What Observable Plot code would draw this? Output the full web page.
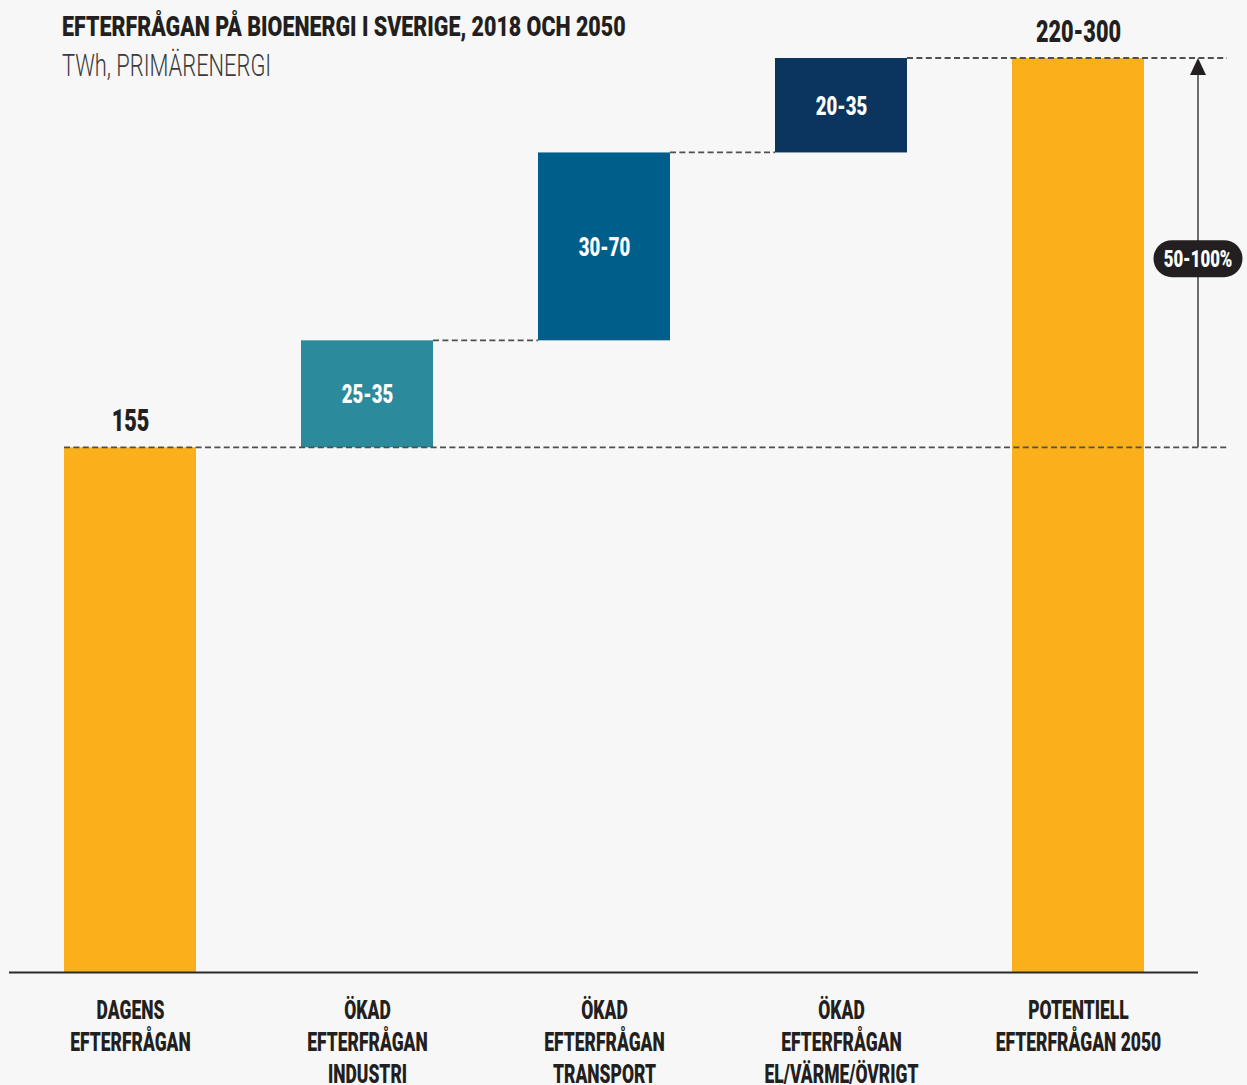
<!DOCTYPE html>
<html>
<head>
<meta charset="utf-8">
<script src="https://cdn.jsdelivr.net/npm/d3@7"></script>
<script src="https://cdn.jsdelivr.net/npm/@observablehq/plot@0.6"></script>
<style>
  html, body { margin: 0; padding: 0; background: #f7f7f7; }
  #wrap { position: relative; width: 1247px; height: 1085px; overflow: hidden; background: #f7f7f7; }
  .ttl { position: absolute; left: 62px; white-space: nowrap; transform-origin: 0 0; line-height: 1; font-family: Roboto, "Noto Sans", sans-serif; }
  #title { top: 13px; font-size: 28px; font-weight: 900; color: #231f20; transform: scaleX(0.766); }
  #subtitle { top: 50px; font-size: 31px; font-weight: 300; color: #3a3a3a; transform: scaleX(0.705); }
</style>
</head>
<body>
<div id="wrap">
  <div id="chart"></div>
  <div id="title" class="ttl">EFTERFRÅGAN PÅ BIOENERGI I SVERIGE, 2018 OCH 2050</div>
  <div id="subtitle" class="ttl">TWh, PRIMÄRENERGI</div>
</div>
<script>
// ---- data (TWh) ----
const categories = [
  "DAGENS\nEFTERFRÅGAN",
  "ÖKAD\nEFTERFRÅGAN\nINDUSTRI",
  "ÖKAD\nEFTERFRÅGAN\nTRANSPORT",
  "ÖKAD\nEFTERFRÅGAN\nEL/VÄRME/ÖVRIGT",
  "POTENTIELL\nEFTERFRÅGAN 2050"
];
const barStart = [0, 155, 186.6, 242.1, 0];
const barEnd = [155, 186.6, 242.1, 270, 270];
const valueLabels = ["155", "25-35", "30-70", "20-35", "220-300"];
const barKind = ["total", "step", "step", "step", "total"];
const rangeFrom = 155;
const rangeTo = 270;
const rangeLabel = "50-100%";

// ---- styles ----
const palette = ["#F9B01B", "#2B8A9C", "#005E8A", "#0B355F", "#F9B01B"];
const SX = 0.70; // horizontal condensing of the label font
const ink = "#231f20";

const data = categories.map((c, i) => ({
  cat: c, start: barStart[i], end: barEnd[i], label: valueLabels[i], kind: barKind[i]
}));

function connectors(index, scales, values, dims) {
  const x = scales.x, y = scales.y;
  const bw = typeof x.bandwidth === "function" ? x.bandwidth() : x.bandwidth;
  const ext = dims.width - dims.marginRight + 29;
  const g = d3.create("svg:g")
    .attr("stroke", "#4f4f4f").attr("stroke-width", 1.8)
    .attr("stroke-dasharray", "6,3.4").attr("fill", "none");
  const n = categories.length;
  for (let i = 0; i < n - 1; i++) {
    const left = x(categories[i]);
    const x1 = barKind[i] === "total" ? left : left + bw;
    const x2 = (barKind[i] === "total" || barKind[i + 1] === "total") ? ext : x(categories[i + 1]);
    const yy = y(barEnd[i]);
    g.append("line").attr("x1", x1).attr("x2", x2).attr("y1", yy).attr("y2", yy);
  }
  return g.node();
}

function rangeArrow(index, scales, values, dims) {
  const y = scales.y;
  const ax = dims.width - dims.marginRight;
  const y0 = y(rangeFrom), y1 = y(rangeTo);
  const g = d3.create("svg:g");
  g.append("line").attr("x1", ax).attr("x2", ax).attr("y1", y0).attr("y2", y1 + 15)
    .attr("stroke", "#555").attr("stroke-width", 1.7);
  g.append("path").attr("d", `M${ax},${y1}L${ax - 8},${y1 + 17}L${ax + 8},${y1 + 17}Z`).attr("fill", ink);
  const ym = (y0 + y1) / 2 + 6;
  g.append("rect").attr("x", ax - 44.5).attr("y", ym - 18.5).attr("width", 89).attr("height", 37)
    .attr("rx", 18.5).attr("fill", ink);
  g.append("text")
    .attr("transform", `translate(${ax},${ym}) scale(${SX},1)`)
    .attr("text-anchor", "middle").attr("dy", "0.36em")
    .attr("font-size", 24).attr("font-weight", 900).attr("fill", "white")
    .text(rangeLabel);
  return g.node();
}

const chart = Plot.plot({
  width: 1247,
  height: 1085,
  marginLeft: 9,
  marginRight: 49,
  marginTop: 58,
  marginBottom: 113,
  style: { background: "#f7f7f7", fontFamily: "Roboto, 'Noto Sans', sans-serif", color: ink },
  x: { domain: categories, paddingInner: 0.444, paddingOuter: 0.222, axis: null },
  y: { domain: [0, 270], axis: null },
  color: { domain: categories, range: palette },
  marks: [
    Plot.barY(data, { x: "cat", y1: "start", y2: "end", fill: "cat" }),
    Plot.ruleY([0], { stroke: "#2b2b2b", strokeWidth: 2 }),
    connectors,
    rangeArrow,
    Plot.text(data.filter(d => d.kind === "total"), {
      x: "cat", y: "end", text: "label", lineAnchor: "bottom", dy: -17,
      fontSize: 31, fontWeight: 900, fill: ink
    }),
    Plot.text(data.filter(d => d.kind === "step"), {
      x: "cat", y: d => (d.start + d.end) / 2, text: "label", dy: 9,
      fontSize: 26.5, fontWeight: 900, fill: "white"
    }),
    Plot.text(data, {
      x: "cat", y: () => 0, text: "cat", lineAnchor: "top", dy: 24, lineHeight: 1.28,
      fontSize: 25, fontWeight: 900, fill: ink
    })
  ]
});

// condense the text horizontally around each anchor
chart.querySelectorAll('g[aria-label="text"] > text').forEach(t => {
  const tx = +t.getAttribute("x") || 0, ty = +t.getAttribute("y") || 0;
  t.removeAttribute("x"); t.removeAttribute("y");
  const tr = t.getAttribute("transform") || "";
  t.setAttribute("transform", `${tr} translate(${tx},${ty}) scale(${SX},1)`);
});

document.getElementById("chart").appendChild(chart);
</script>
</body>
</html>
